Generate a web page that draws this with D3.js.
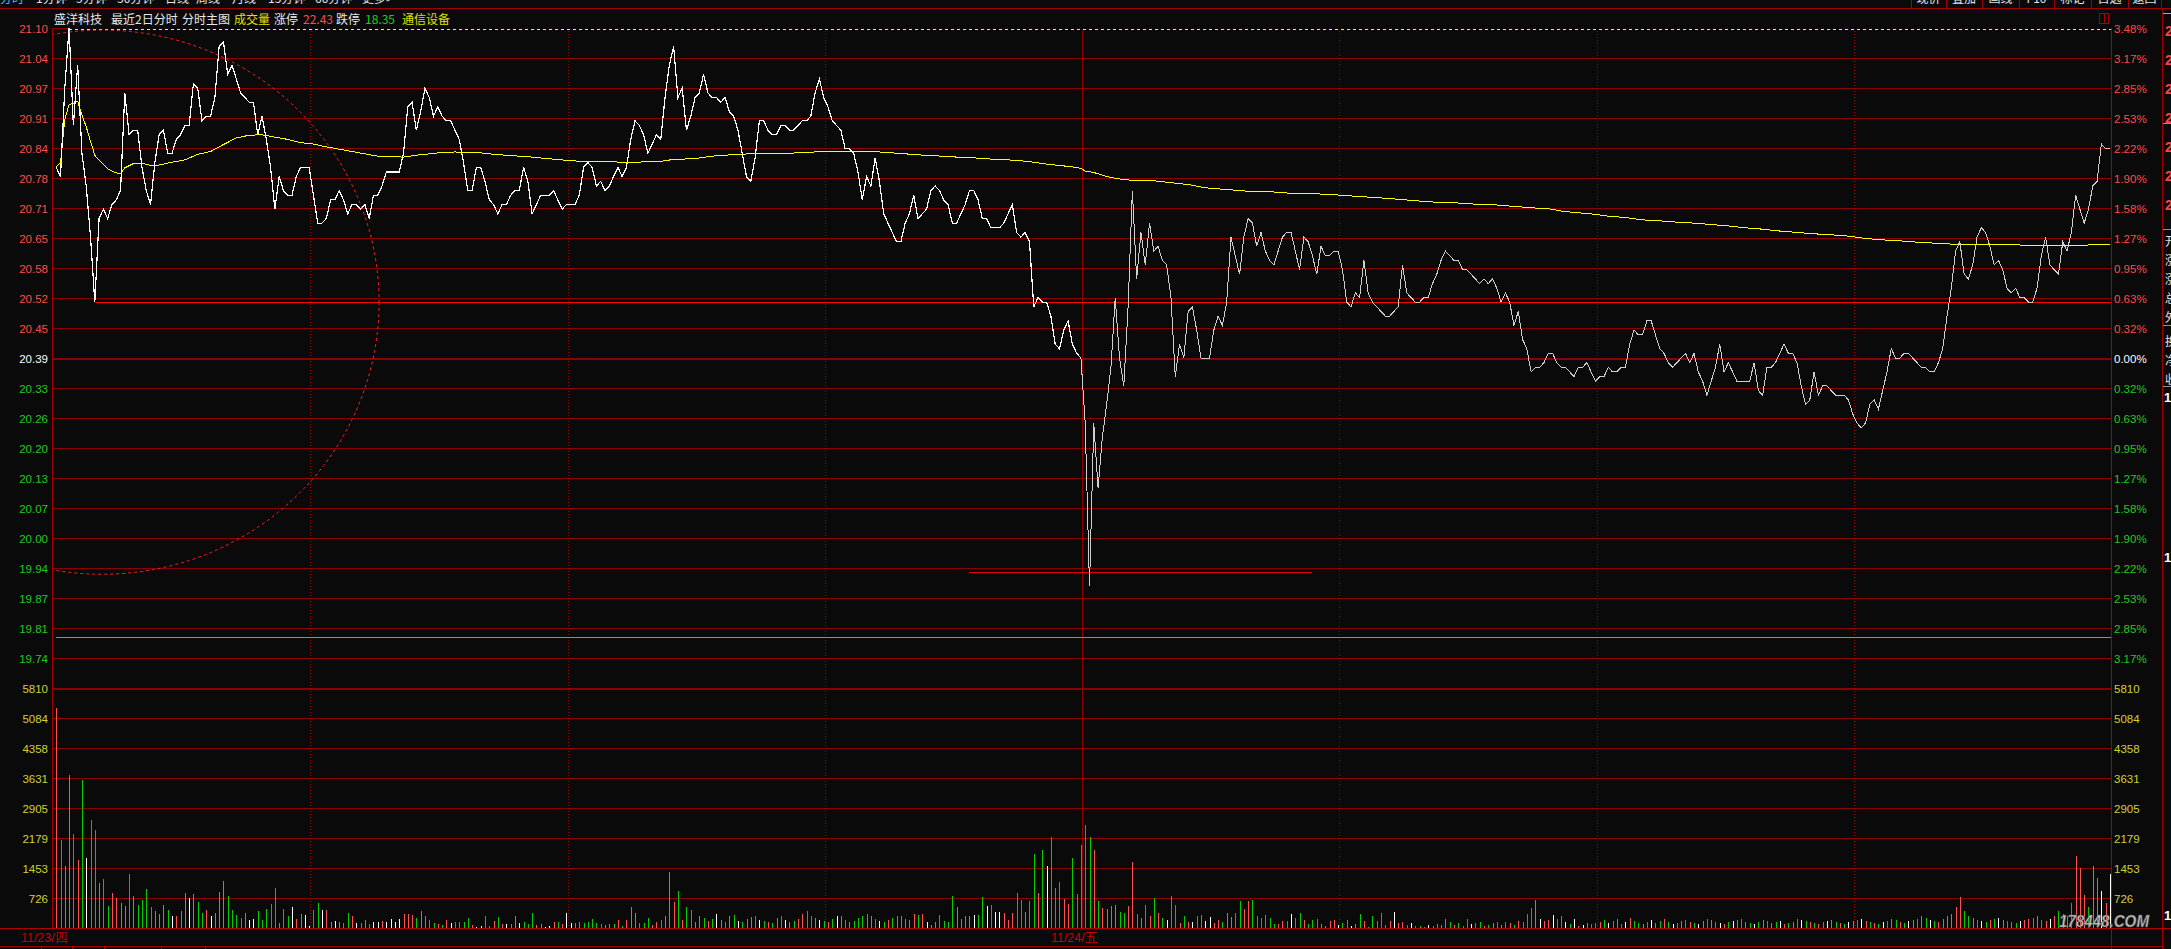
<!DOCTYPE html>
<html><head><meta charset="utf-8">
<script src="https://cdn.jsdelivr.net/npm/d3@7/dist/d3.min.js"></script>
<style>
html,body{margin:0;padding:0;background:#0a0a0a;overflow:hidden;}
svg{display:block;}
</style></head>
<body>
<svg id="chart" width="2171" height="949"></svg>
<script>
// ================= DATA =================
const stockName = '盛洋科技';
const preClose = 20.39;
const limitPct = 0.0348;
const limitUp = '22.43';
const limitDown = '18.35';
const industry = '通信设备';
const dates = ['11/23/四', '11/24/五'];
const titleParts = ['最近2日分时', '分时主图', '成交量', '涨停', '跌停'];
const toolbarLeft = ['分时', '1分钟', '5分钟', '30分钟', '日线', '周线', '月线', '15分钟', '60分钟', '更多>'];
const toolbarRight = ['现价', '叠加', '画线', 'F10', '标记', '自选', '返回'];

const priceLabels = ['21.10','21.04','20.97','20.91','20.84','20.78','20.71','20.65','20.58','20.52','20.45',
  '20.39','20.33','20.26','20.20','20.13','20.07','20.00','19.94','19.87','19.81','19.74'];
const pctLabels = ['3.48%','3.17%','2.85%','2.53%','2.22%','1.90%','1.58%','1.27%','0.95%','0.63%','0.32%',
  '0.00%','0.32%','0.63%','0.95%','1.27%','1.58%','1.90%','2.22%','2.53%','2.85%','3.17%'];
const volLabels = ['5810','5084','4358','3631','2905','2179','1453','726'];
const volMax = 5810;

// minute prices, day 1 (11/23) and day 2 (11/24), 240 each
const day1Price = [
20.80,20.78,20.97,21.10,20.89,21.02,20.83,20.76,20.65,20.51,
20.69,20.71,20.69,20.72,20.73,20.75,20.96,20.87,20.88,20.88,
20.80,20.75,20.72,20.81,20.87,20.88,20.83,20.83,20.86,20.87,
20.89,20.89,20.98,20.97,20.90,20.91,20.91,20.95,21.06,21.07,
21.00,21.02,20.99,20.96,20.95,20.94,20.94,20.87,20.91,20.86,
20.80,20.71,20.78,20.75,20.74,20.74,20.78,20.80,20.80,20.80,
20.74,20.68,20.68,20.69,20.73,20.73,20.75,20.73,20.70,20.72,
20.72,20.71,20.72,20.69,20.74,20.74,20.76,20.79,20.79,20.79,
20.79,20.83,20.93,20.94,20.88,20.92,20.97,20.95,20.91,20.93,
20.91,20.90,20.90,20.88,20.86,20.81,20.75,20.75,20.80,20.80,
20.77,20.73,20.72,20.70,20.72,20.72,20.74,20.75,20.75,20.80,
20.77,20.70,20.72,20.74,20.74,20.74,20.75,20.73,20.71,20.72,
20.72,20.72,20.74,20.80,20.81,20.80,20.76,20.77,20.75,20.76,
20.78,20.80,20.78,20.80,20.86,20.90,20.89,20.87,20.83,20.85,
20.87,20.86,20.95,21.02,21.06,20.95,20.97,20.88,20.91,20.95,
20.96,21.00,20.96,20.95,20.95,20.94,20.95,20.92,20.91,20.88,
20.83,20.78,20.77,20.82,20.90,20.90,20.88,20.87,20.87,20.89,
20.89,20.88,20.88,20.89,20.90,20.90,20.91,20.96,20.99,20.95,
20.93,20.90,20.89,20.88,20.84,20.84,20.83,20.79,20.73,20.78,
20.76,20.82,20.77,20.70,20.68,20.66,20.64,20.64,20.68,20.70,
20.74,20.69,20.70,20.71,20.75,20.76,20.75,20.73,20.72,20.68,
20.68,20.70,20.72,20.75,20.75,20.73,20.69,20.69,20.67,20.67,
20.67,20.68,20.70,20.72,20.66,20.65,20.66,20.64,20.50,20.52,
20.51,20.51,20.48,20.42,20.41,20.45,20.47,20.42,20.40,20.39];
const day2Price = [
20.25,19.90,20.25,20.11,20.22,20.29,20.37,20.52,20.39,20.33,
20.50,20.75,20.56,20.66,20.59,20.68,20.62,20.63,20.60,20.59,
20.52,20.35,20.42,20.39,20.49,20.50,20.45,20.39,20.39,20.39,
20.45,20.48,20.46,20.51,20.65,20.61,20.57,20.65,20.69,20.68,
20.63,20.66,20.62,20.60,20.59,20.62,20.65,20.66,20.66,20.62,
20.58,20.65,20.64,20.61,20.57,20.63,20.61,20.61,20.62,20.62,
20.58,20.51,20.50,20.53,20.52,20.60,20.53,20.51,20.50,20.49,
20.48,20.48,20.49,20.50,20.59,20.53,20.52,20.51,20.51,20.52,
20.52,20.55,20.57,20.60,20.62,20.61,20.60,20.60,20.58,20.58,
20.57,20.56,20.55,20.56,20.55,20.56,20.54,20.51,20.53,20.51,
20.46,20.49,20.43,20.41,20.36,20.37,20.37,20.38,20.40,20.40,
20.38,20.37,20.37,20.36,20.35,20.37,20.37,20.38,20.36,20.34,
20.35,20.35,20.37,20.36,20.36,20.37,20.37,20.42,20.45,20.44,
20.44,20.47,20.47,20.44,20.41,20.40,20.38,20.37,20.38,20.39,
20.40,20.38,20.40,20.36,20.34,20.31,20.34,20.37,20.42,20.36,
20.38,20.36,20.34,20.34,20.34,20.34,20.38,20.32,20.31,20.37,
20.37,20.38,20.40,20.42,20.40,20.40,20.38,20.33,20.29,20.30,
20.36,20.31,20.33,20.33,20.32,20.31,20.31,20.31,20.30,20.27,
20.25,20.24,20.25,20.29,20.30,20.28,20.32,20.36,20.41,20.39,
20.39,20.40,20.40,20.39,20.38,20.37,20.37,20.36,20.36,20.38,
20.41,20.48,20.54,20.62,20.64,20.57,20.56,20.59,20.65,20.67,
20.66,20.63,20.59,20.60,20.58,20.54,20.53,20.54,20.52,20.52,
20.51,20.51,20.54,20.61,20.65,20.59,20.58,20.57,20.64,20.62,
20.66,20.74,20.71,20.68,20.71,20.76,20.77,20.85,20.84,20.84];

// average price line, read at these minutes (0..479 over both days)
const avgMinute = [0,1,2,3,4,5,6,7,8,9,10,12,14,15,16,18,20,22,24,27,30,33,36,39,42,45,48,51,54,57,60,63,66,69,72,75,78,81,84,87,90,93,96,99,102,105,108,111,114,117,
120,123,126,129,132,135,138,141,144,147,150,153,156,159,162,165,168,171,174,177,180,183,186,189,192,195,198,201,204,207,210,213,216,219,222,225,228,231,234,237,239,
240,242,244,246,248,252,256,260,264,268,272,276,280,284,288,292,296,300,304,308,312,316,320,324,328,332,336,340,344,348,350,
351,354,358,362,366,370,374,378,382,386,390,394,398,402,406,410,414,418,422,426,430,434,438,442,446,450,454,458,462,466,470,474,479];
const avgPrice = [20.802,20.809,20.903,20.935,20.938,20.942,20.913,20.887,20.856,20.826,20.815,20.797,20.788,20.786,20.799,20.808,20.809,20.804,20.805,20.811,20.816,20.828,20.834,20.849,20.863,20.869,20.870,20.865,20.860,20.853,20.850,20.844,20.839,20.834,20.829,20.824,20.823,20.822,20.826,20.829,20.832,20.833,20.832,20.831,20.828,20.826,20.824,20.822,20.819,20.817,
20.814,20.813,20.812,20.812,20.811,20.811,20.812,20.813,20.817,20.818,20.820,20.824,20.826,20.828,20.829,20.829,20.829,20.830,20.832,20.833,20.834,20.835,20.834,20.834,20.833,20.831,20.829,20.827,20.825,20.824,20.822,20.821,20.819,20.817,20.816,20.814,20.811,20.807,20.804,20.801,20.798,
20.792,20.789,20.783,20.778,20.775,20.771,20.771,20.767,20.763,20.756,20.753,20.750,20.747,20.747,20.744,20.744,20.742,20.740,20.737,20.735,20.732,20.729,20.726,20.724,20.723,20.720,20.719,20.716,20.713,20.711,20.708,
20.706,20.703,20.700,20.695,20.692,20.687,20.685,20.682,20.680,20.677,20.674,20.670,20.667,20.663,20.660,20.657,20.655,20.652,20.647,20.644,20.642,20.639,20.637,20.635,20.634,20.634,20.633,20.633,20.632,20.632,20.632,20.633,20.634];

// volume per minute (hands) and direction: r = up, g = down, w = flat
const volA = [5317,2140,1494,3692,2286,1655,3571,1704,2625,2383,1089,1195,524,847,726,604,524,1300,782,564,
685,951,508,419,338,548,443,298,298,419,847,725,830,637,371,443,298,371,878,1145,
782,443,322,249,354,201,225,419,201,467,588,975,128,467,298,516,225,346,322,56,
443,613,443,427,153,177,153,128,371,298,128,128,201,104,153,153,177,153,225,153,
225,346,346,322,249,419,298,201,128,104,80,201,128,153,153,153,249,80,32,56,
298,56,177,274,104,104,104,298,128,153,104,371,80,104,32,56,153,153,104,371,
128,128,153,128,153,225,128,104,80,104,104,201,56,201,516,371,128,128,249,80,
153,201,298,1350,637,903,201,516,443,153];
const dirA = 'rgrrgrgwgg'+'rggrrrrgrg'+'gggrrrgwrr'+'rwrggrwrrr'+'ggggrwwggg'+'ggrggwrrww'+'ggwrrwrggr'+'wgrgwwrwww'+
'wrrrgrrggr'+'grwggggrww'+'ggrgrwrrwg'+'ggrrwwrgrw'+'wrrgggggrr'+'grgrrrgggr'+'rgrrrgrggr';
const volB = [300,250,180,220,350,200,150,280,320,180,150,220,260,300,200,180,150,120,250,300,
200,150,180,220,350,400,300,250,200,180,150,220,300,280,200,150,180,250,300,350,280,220,180,150,200,250,300];
const dirB = 'rgrgwrgrgwgrrgwgrgrgwrgrrggrwgrgwrgrgggrrgwgrgr';
const volC = [298,225,201,346,322,346,153,80,153,322,177,153,782,516,225,298,298,322,322,758,
540,564,395,395,371,201,371,854,685,395,661,1800,854,1900,1500,2200,975,1121,709,588,
1700,830,2000,2500,2200,1900,661,492,467,540,564,395,371,540,1600,346,249,564,298,733,
371,249,201,782,564,128,298,153,153,298,322,177,274,128,201,153,371,274,371,661,
467,661,685,298,249,322,249,104,104,177,177,346,249,371,201,104,201,225,104,56,
177,201,80,128,201,56,104,346,177,32,298,177,371,80,177,395,128,153,80,128,
56,56,32,80,56,104,80,225,153,80,128,56,225,104,128,153,56,80,128,153,
80,153,128,80,177,153,346,492,685,225,177,201,322,225,298,153,104,225,56,80,128,104,128];
const dirC = 'rrrrgrwrrg'+'gggrrrrwgg'+'wgwwrrrggr'+'ggrgwgggrr'+'gggggrgrrr'+'rggrrgrgrg'+'rgwggrgrwg'+'gwwrrgrrgg'+
'rrggggggrr'+'gwggrgggrr'+'rrwggwrgrg'+'ggggrwrrgw'+'gggwgrrrgr'+'gggwggrgrg'+'rgrgrgggrw'+'rrwggwgwrw'+'rgg';
const volD = [150,200,128,177,225,104,153,250,177,128,104,153,201,128,177,225,153,104,128,177,
201,153,128,104,177,225,201,153,128,104,153,177,201,225,153,128,104,153,201,177,
128,153,177,104,128,153,225,201,177,153,128,104,153,177,201,153,128,104,153,177,
201,225,177,153,128,104,153,177,225,201,153,128,177,201,225,300,250,201,177,153,
225,300,350,500,750,400,300,250,201,177,153,201,225,250,201,177,153,128,177,201,
225,250,300,201,177,225,300,400,350,300,600,1750,1450,800,500,1500,1200,900,600,1300];
const dirD = 'rgwgrgwrgg'+'rgwrgrgwgr'+'grgwrgrgwr'+'gwrgrgwgrg'+'rgwrgrgwgr'+'grgwrgrgwr'+'gwrgrgwgrg'+'rgwrgrgwgr'+
'rrrrrggrgw'+'grgwrgrgwr'+'rgrgrwrgrr'+'grrrgrrwrw';

// reference marks drawn on the chart
const highMark = {minute: 3, price: 21.10};
const lowMark = {minute: 9, price: 20.51};
const lowMark2 = {from: 213, to: 293, price: 19.93};
const pinkLine = 19.79;
const circleMark = {minute: 10.7, price: 20.51, rMinutes: 64.6, rPrice: 0.585};
const askBook = ['21.10','21.09','21.08','21.07'];
const bidBook = ['21.05','21.04','21.03'];
const quoteFields = ['开盘','涨跌','涨幅','总手','外盘'];
const quoteFields2 = ['换手','净资','收益'];

// ================= DRAW =================
const W = 2171, H = 949;
const L = 53, R = 2111, T = 28, PB = 688, VB = 928;
const svg = d3.select('#chart');
const step = preClose * limitPct / 11;
const y = d3.scaleLinear().domain([preClose - 11 * step, preClose + 11 * step]).range([PB, T]);
const xe = d3.scaleLinear().domain([0, 480]).range([L, R]);
const xp = k => xe(k + 0.75);
const yv = d3.scaleLinear().domain([0, volMax]).range([VB, PB]);
const h = v => Math.round(v) + 0.5;

const GRID = '#8b0000';
const RED = '#ff4a4a', GREEN = '#1fcc1f', YEL = '#d2d232';
const NUMF = "'Liberation Sans', Arial, sans-serif";
const CJK = "'Noto Sans CJK SC', 'Noto Sans', sans-serif";

svg.append('rect').attr('width', W).attr('height', H).attr('fill', '#0a0a0a');

// top toolbar (cut off)
const tb = svg.append('g');
const tbX = [0, 36, 76, 117, 165, 196, 232, 268, 315, 362];
toolbarLeft.forEach((t, i) => tb.append('text').attr('x', tbX[i]).attr('y', 2.5)
  .attr('font-family', CJK).attr('font-size', 12).attr('fill', i === 0 ? '#30c8ff' : '#e6e6e6').text(t));
const tbR = [1911, 1946, 1982, 2019, 2054, 2091, 2128, 2161];
toolbarRight.forEach((t, i) => tb.append('text').attr('x', (tbR[i] + tbR[i + 1]) / 2).attr('y', 2.5)
  .attr('text-anchor', 'middle').attr('font-family', CJK).attr('font-size', 12).attr('fill', '#e6e6e6').text(t));
tbR.forEach(xx => tb.append('line').attr('x1', xx + 0.5).attr('x2', xx + 0.5).attr('y1', 0).attr('y2', 8)
  .attr('stroke', '#a00000').attr('shape-rendering', 'crispEdges'));
svg.append('line').attr('x1', 0).attr('x2', W).attr('y1', 8.5).attr('y2', 8.5).attr('stroke', '#a00000')
  .attr('shape-rendering', 'crispEdges');

// title row
const title = svg.append('g').attr('font-family', CJK).attr('font-size', 12).attr('dominant-baseline', 'central');
const titleItems = [
  {t: stockName, x: 54, c: '#e8e8e8'}, {t: titleParts[0], x: 111, c: '#e8e8e8'}, {t: titleParts[1], x: 182, c: '#e8e8e8'},
  {t: titleParts[2], x: 234, c: '#e0e000'}, {t: titleParts[3], x: 274, c: '#e8e8e8'}, {t: limitUp, x: 303, c: RED},
  {t: titleParts[4], x: 336, c: '#e8e8e8'}, {t: limitDown, x: 365, c: GREEN}, {t: industry, x: 402, c: '#e0e000'}];
titleItems.forEach(d => title.append('text').attr('x', d.x).attr('y', 18.5).attr('fill', d.c).text(d.t));

// small icon top right
svg.append('rect').attr('x', 2099.5).attr('y', 13.5).attr('width', 9).attr('height', 10).attr('fill', 'none')
  .attr('stroke', '#a00000').attr('shape-rendering', 'crispEdges');
svg.append('line').attr('x1', 2104.5).attr('x2', 2104.5).attr('y1', 13.5).attr('y2', 23.5).attr('stroke', '#a00000')
  .attr('shape-rendering', 'crispEdges');

// grid
const grid = svg.append('g').attr('shape-rendering', 'crispEdges');
d3.range(-11, 12).forEach(n => {
  const yy = Math.round(y(preClose + n * step));
  const thick = (n === 0 || n === -11);
  grid.append('line').attr('x1', L).attr('x2', R).attr('y1', thick ? yy + 1 : yy + 0.5).attr('y2', thick ? yy + 1 : yy + 0.5)
    .attr('stroke', GRID).attr('stroke-width', thick ? 2 : 1);
});
d3.range(1, 8).forEach(i => {
  const yy = Math.round(yv(volMax * i / 8));
  grid.append('line').attr('x1', L).attr('x2', R).attr('y1', yy + 0.5).attr('y2', yy + 0.5).attr('stroke', GRID);
});
[60, 120, 180, 300, 360, 420].forEach(m => {
  grid.append('line').attr('x1', h(xe(m))).attr('x2', h(xe(m))).attr('y1', T).attr('y2', VB)
    .attr('stroke', '#a00000').attr('stroke-dasharray', '1,2');
});
grid.append('line').attr('x1', h(xe(240))).attr('x2', h(xe(240))).attr('y1', T).attr('y2', VB).attr('stroke', GRID);
grid.append('line').attr('x1', L - 0.5).attr('x2', L - 0.5).attr('y1', T).attr('y2', VB).attr('stroke', '#a00000');
grid.append('line').attr('x1', R + 0.5).attr('x2', R + 0.5).attr('y1', T).attr('y2', 949).attr('stroke', '#a00000');
grid.append('line').attr('x1', 2162.5).attr('x2', 2162.5).attr('y1', 9).attr('y2', 949).attr('stroke', '#a00000');
grid.append('line').attr('x1', 0).attr('x2', W).attr('y1', VB + 0.5).attr('y2', VB + 0.5).attr('stroke', '#b00000');
grid.append('line').attr('x1', 0).attr('x2', 2162).attr('y1', 946.5).attr('y2', 946.5).attr('stroke', '#a00000');
[41, 72, 104, 161, 205].forEach(xx => grid.append('line').attr('x1', xx + 0.5).attr('x2', xx + 0.5)
  .attr('y1', 946).attr('y2', 949).attr('stroke', '#a00000'));

// volume bars
const volume = volA.concat(volB, volC, volD);
const dirs = (dirA + dirB + dirC + dirD).split('');
const volColor = {r: '#ff5050', g: '#00cc00', w: '#ffffff'};
svg.append('g').attr('shape-rendering', 'crispEdges').selectAll('rect').data(volume).join('rect')
  .attr('x', (v, k) => Math.round(xp(k)))
  .attr('y', v => Math.round(yv(v)))
  .attr('width', 1)
  .attr('height', v => VB - Math.round(yv(v)))
  .attr('fill', (v, k) => volColor[dirs[k]] || '#ffffff');

// clip for plot
svg.append('clipPath').attr('id', 'plotClip').append('rect').attr('x', L).attr('y', T).attr('width', R - L).attr('height', PB - T);

// marker lines
const marks = svg.append('g').attr('shape-rendering', 'crispEdges');
const hiY = Math.round(y(highMark.price)) + 0.5;
marks.append('line').attr('x1', xp(highMark.minute)).attr('x2', R).attr('y1', hiY).attr('y2', hiY)
  .attr('stroke', '#0a0a0a').attr('stroke-width', 2);
marks.append('line').attr('x1', xp(highMark.minute)).attr('x2', R).attr('y1', hiY + 0.5).attr('y2', hiY + 0.5)
  .attr('stroke', '#ffff00').attr('stroke-dasharray', '3,3');
marks.append('line').attr('x1', xp(lowMark.minute)).attr('x2', R).attr('y1', h(y(lowMark.price))).attr('y2', h(y(lowMark.price)))
  .attr('stroke', '#ff0000').attr('stroke-width', 1.5);
marks.append('line').attr('x1', xp(lowMark2.from)).attr('x2', xp(lowMark2.to)).attr('y1', h(y(lowMark2.price)))
  .attr('y2', h(y(lowMark2.price))).attr('stroke', '#e00000');
marks.append('line').attr('x1', L + 3).attr('x2', R).attr('y1', h(y(pinkLine))).attr('y2', h(y(pinkLine)))
  .attr('stroke', '#ff40ff').attr('stroke-width', 1);

// average price line
const avgPts = avgMinute.map((m, i) => [xp(m), y(avgPrice[i])]);
svg.append('path').attr('d', d3.line()(avgPts)).attr('fill', 'none').attr('stroke', '#ffff00').attr('stroke-width', 1)
  .attr('shape-rendering', 'crispEdges');

// price lines
const line = d3.line().x(d => xp(d.k)).y(d => y(d.p));
const p1 = day1Price.map((p, k) => ({k, p}));
const p2 = [{k: 239, p: day1Price[239]}].concat(day2Price.map((p, j) => ({k: 240 + j, p})));
svg.append('path').attr('d', line(p2)).attr('fill', 'none').attr('stroke', '#cfcfcf').attr('stroke-width', 1)
  .attr('shape-rendering', 'crispEdges');
svg.append('path').attr('d', line(p1)).attr('fill', 'none').attr('stroke', '#ffffff').attr('stroke-width', 1.2)
  .attr('shape-rendering', 'crispEdges');

// circle annotation
const cx = xp(circleMark.minute), cy = y(circleMark.price);
const rx = xe(circleMark.rMinutes) - xe(0), ry = y(circleMark.price - circleMark.rPrice) - cy;
svg.append('ellipse').attr('clip-path', 'url(#plotClip)').attr('cx', cx).attr('cy', cy).attr('rx', rx).attr('ry', ry)
  .attr('fill', 'none').attr('stroke', '#ff2020').attr('stroke-width', 1).attr('stroke-dasharray', '3,3');

// left / right axis labels
const lab = svg.append('g').attr('font-family', NUMF).attr('font-size', 11.5).attr('dominant-baseline', 'central');
priceLabels.forEach((t, i) => {
  const n = 11 - i;
  const yy = Math.round(y(preClose + n * step)) + 1;
  const col = n > 0 ? RED : (n === 0 ? '#ffffff' : GREEN);
  lab.append('text').attr('x', 48).attr('y', yy).attr('text-anchor', 'end').attr('fill', col).text(t);
  lab.append('text').attr('x', 2114).attr('y', yy).attr('fill', col).text(pctLabels[i]);
});
volLabels.forEach((t, i) => {
  const yy = Math.round(yv(volMax * (8 - i) / 8)) + 1;
  lab.append('text').attr('x', 48).attr('y', yy).attr('text-anchor', 'end').attr('fill', YEL).text(t);
  lab.append('text').attr('x', 2114).attr('y', yy).attr('fill', YEL).text(t);
});

// date labels
const dl = svg.append('g').attr('font-family', NUMF).attr('font-size', 13).attr('fill', '#c80000').attr('dominant-baseline', 'central');
dl.append('text').attr('x', 21).attr('y', 937).attr('textLength', 46).attr('lengthAdjust', 'spacingAndGlyphs').text(dates[0]);
dl.append('text').attr('x', xe(240) - 31).attr('y', 937).attr('textLength', 46).attr('lengthAdjust', 'spacingAndGlyphs').text(dates[1]);

// cut-off quote panel at far right
svg.append('clipPath').attr('id', 'sideClip').append('rect').attr('x', 2163).attr('y', 9).attr('width', 8).attr('height', 940);
const side = svg.append('g').attr('clip-path', 'url(#sideClip)');
side.append('line').attr('x1', 2163).attr('x2', 2171).attr('y1', 13.5).attr('y2', 13.5).attr('stroke', '#e0a040');
askBook.forEach((t, i) => side.append('text').attr('x', 2165).attr('y', 31 + i * 29)
  .attr('dominant-baseline', 'central').attr('font-family', NUMF).attr('font-size', 14).attr('font-weight', 'bold').attr('fill', '#ff4040').text(t));
bidBook.forEach((t, i) => side.append('text').attr('x', 2165).attr('y', 147 + i * 29)
  .attr('dominant-baseline', 'central').attr('font-family', NUMF).attr('font-size', 14).attr('font-weight', 'bold').attr('fill', '#ff4040').text(t));
[123, 229, 325, 386].forEach(yy => side.append('line').attr('x1', 2163).attr('x2', 2171).attr('y1', yy + 0.5).attr('y2', yy + 0.5).attr('stroke', '#909090'));
quoteFields.forEach((t, i) => side.append('text').attr('x', 2165).attr('y', 240 + i * 19)
  .attr('dominant-baseline', 'central').attr('font-family', CJK).attr('font-size', 12).attr('fill', '#e0e0e0').text(t));
quoteFields2.forEach((t, i) => side.append('text').attr('x', 2165).attr('y', 340 + i * 19)
  .attr('dominant-baseline', 'central').attr('font-family', CJK).attr('font-size', 12).attr('fill', '#e0e0e0').text(t));
[397, 557, 915].forEach(yy => side.append('text').attr('x', 2164).attr('y', yy).attr('dominant-baseline', 'central')
  .attr('font-family', NUMF).attr('font-size', 13).attr('font-weight', 'bold').attr('fill', '#ffffff').text('1'));

// watermark
svg.append('text').attr('x', 2059).attr('y', 921).attr('dominant-baseline', 'central').attr('font-family', NUMF)
  .attr('font-size', 16).attr('font-weight', 'bold').attr('font-style', 'italic').attr('textLength', 90).attr('lengthAdjust', 'spacingAndGlyphs')
  .attr('fill', '#c8c8c8').attr('stroke', '#505050').attr('stroke-width', 0.6).text('178448.COM');
</script>
</body></html>
